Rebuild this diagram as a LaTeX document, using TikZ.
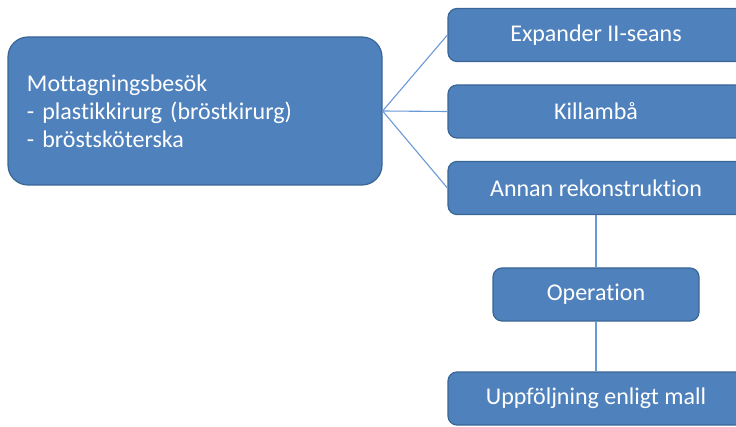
\documentclass[tikz,border=0pt]{standalone}
\usepackage{fontspec}
\setmainfont{Carlito}[Ligatures=NoCommon]
\usetikzlibrary{positioning}
\definecolor{boxF}{HTML}{4F81BD}
\definecolor{boxD}{HTML}{3A6696}
\definecolor{wire}{HTML}{6A9AD6}
\tikzset{
  stepbox/.style={draw=boxD, line width=1.2pt, fill=boxF, rounded corners=9pt,
                  text=white, align=center, minimum width=296pt,
                  minimum height=53pt, inner sep=0pt,
                  font=\fontsize{24}{28}\selectfont},
  visit/.style={stepbox, rounded corners=20pt, align=left, text width=336pt,
                minimum width=374pt, minimum height=148pt},
  link/.style={draw=wire, line width=1.1pt},
}
\begin{document}
\begin{tikzpicture}[x=1pt,y=1pt]
  \useasboundingbox (0,0) rectangle (736,426);
  \clip (0,0) rectangle (736,426);

  % the first visit and its three ways on
  \node[visit] (besok) at (195,315) {Mottagningsbesök\\
    - plastikkirurg (bröstkirurg)\\ - bröstsköterska};
  \node[stepbox] (exp) at (596,391) {Expander II-seans};
  \node[stepbox, below=22.3pt of exp] (kill) {Killambå};
  \node[stepbox, below=22.3pt of kill] (annan) {Annan rekonstruktion};

  % the operation path
  \node[stepbox, minimum width=206pt, below=52.3pt of annan] (op) {Operation};
  \node[stepbox, below=49.8pt of op] (upp) {Uppföljning enligt mall};

  \draw[link] (besok.east) -- (exp.west);
  \draw[link] (besok.east) -- (kill.west);
  \draw[link] (besok.east) -- (annan.west);
  \draw[link] (annan) -- (op);
  \draw[link] (op) -- (upp);
\end{tikzpicture}
\end{document}
